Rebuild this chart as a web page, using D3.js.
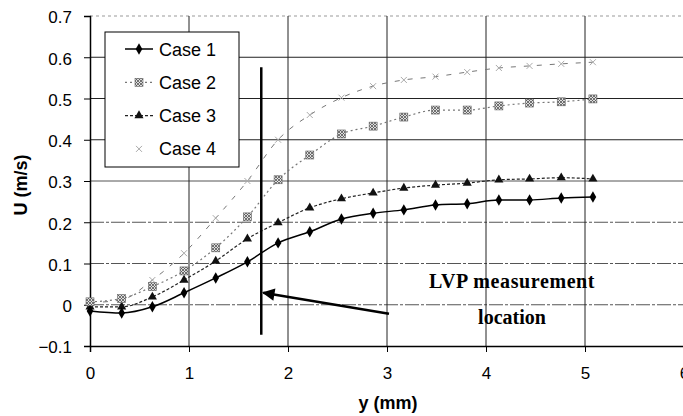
<!DOCTYPE html>
<html><head><meta charset="utf-8">
<script src="https://cdn.jsdelivr.net/npm/d3@7"></script>
<style>body{margin:0;background:#fff}svg{display:block}</style>
</head><body>
<svg id="c" width="683" height="416"></svg>
<script>
const yPos = [0, 0.32, 0.63, 0.95, 1.27, 1.59, 1.9, 2.22, 2.54, 2.86, 3.17, 3.49, 3.81, 4.13, 4.44, 4.76, 5.08];
const case1 = [-0.015, -0.02, -0.005, 0.029, 0.065, 0.104, 0.150, 0.177, 0.208, 0.222, 0.230, 0.242, 0.245, 0.254, 0.254, 0.259, 0.261];
const case2 = [0.007, 0.015, 0.044, 0.082, 0.138, 0.213, 0.303, 0.363, 0.414, 0.433, 0.455, 0.472, 0.472, 0.482, 0.489, 0.492, 0.499];
const case3 = [-0.005, -0.005, 0.019, 0.06, 0.106, 0.16, 0.199, 0.235, 0.257, 0.271, 0.283, 0.29, 0.295, 0.303, 0.305, 0.308, 0.305];
const case4 = [0.005, 0.012, 0.06, 0.125, 0.21, 0.30, 0.40, 0.46, 0.502, 0.530, 0.545, 0.553, 0.564, 0.574, 0.579, 0.584, 0.588];
const seriesNames = ["Case 1", "Case 2", "Case 3", "Case 4"];
const xTicks = [0, 1, 2, 3, 4, 5, 6];
const yTicks = [-0.1, 0, 0.1, 0.2, 0.3, 0.4, 0.5, 0.6, 0.7];
const markerLineX = 1.73, markerLineY = [0.576, -0.073];
const arrowFrom = [3.02, -0.022], arrowTo = [1.75, 0.029];
const annotation = ["LVP measurement", "location"];

const svg = d3.select("#c");
const x = d3.scaleLinear().domain([0, 6]).range([90, 684]);
const y = d3.scaleLinear().domain([-0.1, 0.7]).range([346, 16]);

// grid
const g = svg.append("g");
g.selectAll(".hg").data(yTicks.filter(d => d > -0.1)).join("line")
  .attr("x1", x(0)).attr("x2", x(6)).attr("y1", d => y(d)).attr("y2", d => y(d))
  .attr("stroke", d => d === 0.7 ? "#999" : (d <= 0.3 ? "#555" : "#222")).attr("stroke-width", 1)
  .attr("stroke-dasharray", d => d === 0.7 ? "3,3" : (d === 0 || d === 0.1 || d === 0.2) ? "14,2,3,2" : null);
g.selectAll(".vg").data(xTicks.filter(d => d > 0)).join("line")
  .attr("x1", d => x(d)).attr("x2", d => x(d)).attr("y1", y(0.7)).attr("y2", y(-0.1))
  .attr("stroke", "#222").attr("stroke-width", 1);

// axes
const xAxis = d3.axisBottom(x).tickValues(xTicks).tickSize(6).tickPadding(15).tickFormat(d3.format("d"));
const gx = svg.append("g").attr("transform", `translate(0,${y(-0.1)})`).call(xAxis);
gx.select(".domain").attr("stroke", "#000").attr("stroke-width", 1.5);
gx.selectAll("text").attr("font-family", "Liberation Sans, Arial, sans-serif").attr("font-size", 17).attr("fill", "#000");
const yAxis = d3.axisLeft(y).tickValues(yTicks).tickSize(6).tickPadding(12).tickFormat(d => d === 0 ? "0" : d3.format(".1f")(d));
const gy = svg.append("g").attr("transform", `translate(${x(0)},0)`).call(yAxis);
gy.select(".domain").attr("stroke", "#000").attr("stroke-width", 1.5);
gy.selectAll("text").attr("font-family", "Liberation Sans, Arial, sans-serif").attr("font-size", 17).attr("fill", "#000").attr("dy", "0.4em");

svg.append("text").attr("x", 388).attr("y", 409).attr("text-anchor", "middle")
  .attr("font-family", "Liberation Sans, Arial, sans-serif").attr("font-weight", "bold").attr("font-size", 18).text("y (mm)");
svg.append("text").attr("transform", "translate(27,185) rotate(-90)").attr("text-anchor", "middle")
  .attr("font-family", "Liberation Sans, Arial, sans-serif").attr("font-weight", "bold").attr("font-size", 18).text("U (m/s)");

// pattern for hatched squares
const defs = svg.append("defs");
const pat = defs.append("pattern").attr("id", "hatch").attr("patternUnits", "userSpaceOnUse").attr("width", 3).attr("height", 3);
pat.append("rect").attr("width", 3).attr("height", 3).attr("fill", "#ddd");
pat.append("path").attr("d", "M0,0L3,3M3,0L0,3").attr("stroke", "#555").attr("stroke-width", 0.8);

const series = [
  {name: seriesNames[0], vals: case1, stroke: "#000", width: 1.5, dash: null, marker: "diamond"},
  {name: seriesNames[1], vals: case2, stroke: "#777", width: 1.2, dash: "2,3", marker: "square"},
  {name: seriesNames[2], vals: case3, stroke: "#222", width: 1.2, dash: "3,2", marker: "triangle"},
  {name: seriesNames[3], vals: case4, stroke: "#777", width: 1, dash: "5,8", marker: "x"}
];
const line = d3.line().x(d => x(d[0])).y(d => y(d[1])).curve(d3.curveMonotoneX);

function drawMarker(sel, type, cx, cy) {
  if (type === "diamond") sel.append("path").attr("d", d3.symbol(d3.symbolDiamond, 38)()).attr("transform", `translate(${cx},${cy})`).attr("fill", "#000");
  else if (type === "square") sel.append("rect").attr("x", cx - 4).attr("y", cy - 4).attr("width", 8).attr("height", 8).attr("fill", "url(#hatch)").attr("stroke", "#666").attr("stroke-width", 0.6);
  else if (type === "triangle") sel.append("path").attr("d", d3.symbol(d3.symbolTriangle, 36)()).attr("transform", `translate(${cx},${cy})`).attr("fill", "#111");
  else sel.append("path").attr("d", `M${cx-3},${cy-3}L${cx+3},${cy+3}M${cx+3},${cy-3}L${cx-3},${cy+3}`).attr("stroke", "#aaa").attr("stroke-width", 1);
}

series.slice().reverse().forEach(s => {
  const pts = yPos.map((v, i) => [v, s.vals[i]]);
  svg.append("path").datum(pts).attr("d", line).attr("fill", "none")
    .attr("stroke", s.stroke).attr("stroke-width", s.width).attr("stroke-dasharray", s.dash);
  const mg = svg.append("g");
  pts.forEach(p => drawMarker(mg, s.marker, x(p[0]), y(p[1])));
});

// vertical line
svg.append("line").attr("x1", x(markerLineX)).attr("x2", x(markerLineX))
  .attr("y1", y(markerLineY[0])).attr("y2", y(markerLineY[1])).attr("stroke", "#000").attr("stroke-width", 2.5);

// arrow
defs.append("marker").attr("id", "ah").attr("viewBox", "0 0 10 10").attr("refX", 9).attr("refY", 5)
  .attr("markerWidth", 6.5).attr("markerHeight", 5).attr("markerUnits", "strokeWidth").attr("orient", "auto")
  .append("path").attr("d", "M0,0L10,5L0,10Z").attr("fill", "#000");
svg.append("line").attr("x1", x(arrowFrom[0])).attr("y1", y(arrowFrom[1]))
  .attr("x2", x(arrowTo[0])).attr("y2", y(arrowTo[1])).attr("stroke", "#000").attr("stroke-width", 2.5)
  .attr("marker-end", "url(#ah)");

// annotation
svg.append("text").attr("x", 512).attr("y", 288).attr("text-anchor", "middle")
  .attr("font-family", "Liberation Serif, Times New Roman, serif").attr("font-weight", "bold").attr("font-size", 20)
  .attr("letter-spacing", 0.6).text(annotation[0]);
svg.append("text").attr("x", 512).attr("y", 324).attr("text-anchor", "middle")
  .attr("font-family", "Liberation Serif, Times New Roman, serif").attr("font-weight", "bold").attr("font-size", 20).text(annotation[1]);

// legend
const lg = svg.append("g");
lg.append("rect").attr("x", 105).attr("y", 32).attr("width", 134).attr("height", 135).attr("fill", "#fff").attr("stroke", "#000").attr("stroke-width", 1);
series.forEach((s, i) => {
  const cy = 49 + i * 33.3;
  lg.append("line").attr("x1", 125).attr("x2", 153).attr("y1", cy).attr("y2", cy)
    .attr("stroke", s.stroke).attr("stroke-width", s.width).attr("stroke-dasharray", s.marker === "x" ? null : s.dash)
    .attr("opacity", s.marker === "x" ? 0 : 1);
  drawMarker(lg, s.marker, 139, cy);
  lg.append("text").attr("x", 159).attr("y", cy + 6.5).attr("font-family", "Liberation Sans, Arial, sans-serif")
    .attr("font-size", 18).text(s.name);
});
</script>
</body></html>
